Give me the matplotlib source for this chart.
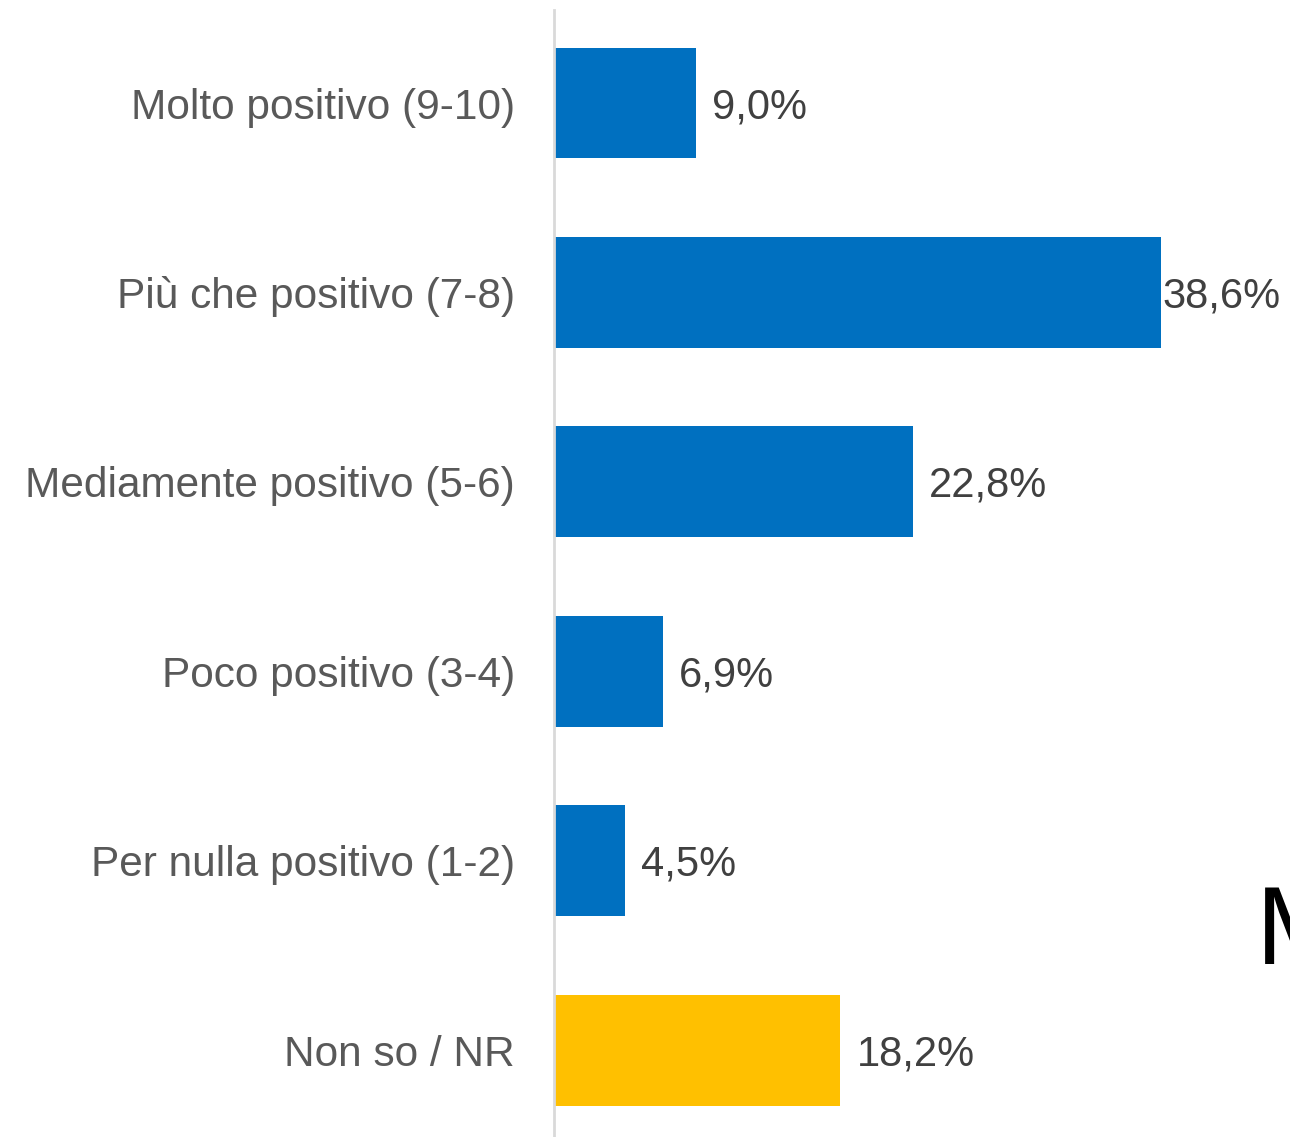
import matplotlib
matplotlib.use('Agg')
import matplotlib.pyplot as plt

plt.rcParams['font.family'] = ['Liberation Sans', 'DejaVu Sans']

categories = ['Molto positivo (9-10)', 'Più che positivo (7-8)', 'Mediamente positivo (5-6)',
              'Poco positivo (3-4)', 'Per nulla positivo (1-2)', 'Non so / NR']
values = [9.0, 38.6, 22.8, 6.9, 4.5, 18.2]
labels = ['9,0%', '38,6%', '22,8%', '6,9%', '4,5%', '18,2%']
colors = ['#0070c0'] * 5 + ['#ffc000']

W, H = 1290, 1137
fig = plt.figure(figsize=(W / 100, H / 100), dpi=100)
ax = fig.add_axes([554 / W, 0, 1 - 554 / W, 1127 / H])

ypos = range(len(categories))
ax.barh(ypos, values, height=0.586, color=colors)
ax.set_xlim(0, 736 / 15.73)
ax.set_ylim(5.459, -0.491)

for y, v, lab in zip(ypos, values, labels):
    off = 1 if v > 35 else 12
    ax.annotate(lab, (v, y), xytext=(off, -3), textcoords='offset points',
                va='center', ha='left', fontsize=30, color='#404040')

ax.set_yticks(list(ypos))
ax.set_yticklabels(categories, fontsize=30.5, color='#595959')
ax.tick_params(axis='y', length=0, pad=28)
ax.set_xticks([])
for s in ['top', 'right', 'bottom']:
    ax.spines[s].set_visible(False)
ax.spines['left'].set_color('#d9d9d9')
ax.spines['left'].set_linewidth(2)

# partial title text cut by the right edge, as in the source
fig.text(1256 / W, 1 - 935 / H, 'M', fontsize=80, color='black', ha='left', va='center')

fig.savefig('out.png', dpi=100)
